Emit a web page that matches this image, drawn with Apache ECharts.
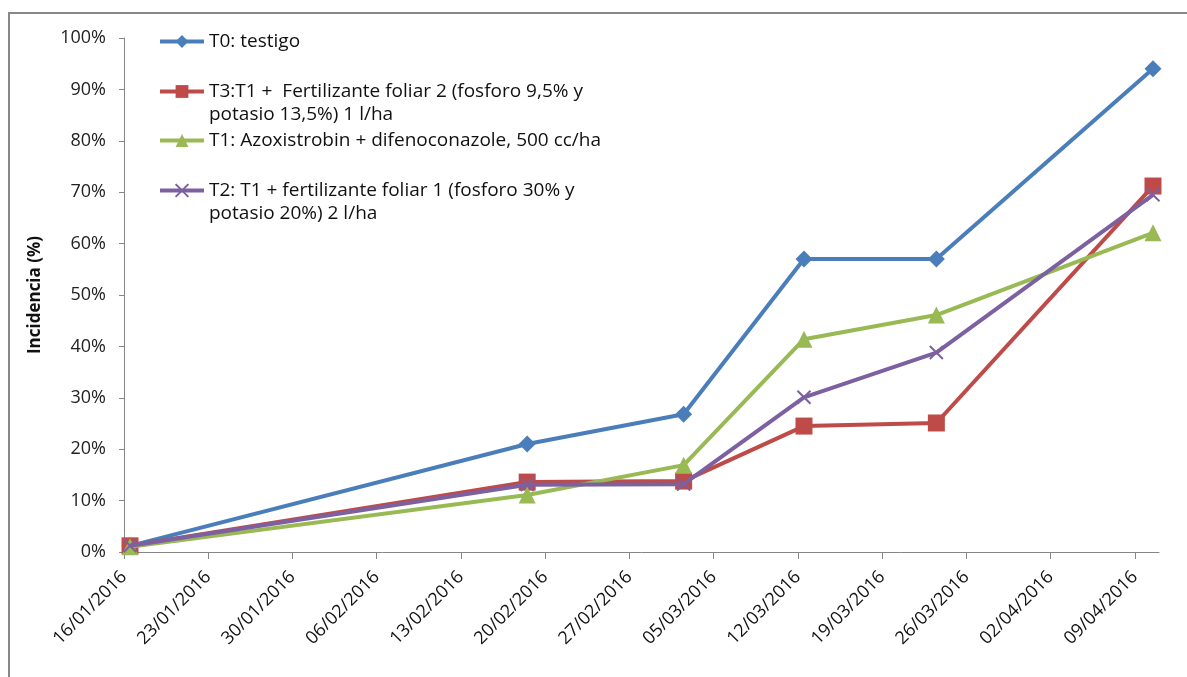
<!DOCTYPE html>
<html>
<head>
<meta charset="utf-8">
<script src="https://cdn.jsdelivr.net/npm/echarts@6/dist/echarts.min.js"></script>
<style>
  html, body { margin: 0; padding: 0; background: #fff; }
  #chart { width: 1187px; height: 677px; }
</style>
</head>
<body>
<div id="chart"></div>
<script>
// fechas de muestreo
var fechas = ['2016-01-16', '2016-02-18', '2016-03-02', '2016-03-12', '2016-03-23', '2016-04-10'];
// etiquetas del eje x (una por semana)
var tickLabels = ['16/01/2016', '23/01/2016', '30/01/2016', '06/02/2016', '13/02/2016', '20/02/2016',
    '27/02/2016', '05/03/2016', '12/03/2016', '19/03/2016', '26/03/2016', '02/04/2016', '09/04/2016'];

var nombres = [
    'T0: testigo',
    'T3:T1 +  Fertilizante foliar 2 (fosforo 9,5% y potasio 13,5%) 1 l/ha',
    'T1: Azoxistrobin + difenoconazole, 500 cc/ha',
    'T2: T1 + fertilizante foliar 1 (fosforo 30% y potasio 20%) 2 l/ha'
];

// incidencia (%)
var t0 = [1.2, 21.0, 26.8, 57.0, 57.0, 94.0];
var t3 = [1.2, 13.6, 13.8, 24.5, 25.1, 71.2];
var t1 = [1.0, 11.1, 16.9, 41.4, 46.1, 62.1];
var t2 = [1.2, 13.1, 13.2, 30.1, 38.8, 69.5];

var font = '"Open Sans", sans-serif';
var inicio = Date.UTC(2016, 0, 16);

function dia(f) {
    var p = f.split('-');
    return (Date.UTC(+p[0], +p[1] - 1, +p[2]) - inicio) / 86400000;
}

function puntos(vals) {
    return vals.map(function (v, i) { return [dia(fechas[i]) + 0.5, v]; });
}

function serie(idx, vals, color, symbol, size) {
    return {
        name: nombres[idx],
        type: 'line',
        data: puntos(vals),
        symbol: symbol,
        symbolSize: size,
        showAllSymbol: true,
        lineStyle: { color: color, width: 4 },
        itemStyle: { color: color, borderColor: color, borderWidth: symbol.indexOf('path') === 0 ? 2 : 0 },
        emphasis: { disabled: true },
        z: 2 + idx
    };
}

// una leyenda por serie; las de dos lineas llevan una linea vacia arriba
// para que el icono quede a la altura de la primera linea
function leyenda(name, top) {
    return {
        left: 158,
        top: top,
        orient: 'vertical',
        padding: 0,
        itemWidth: 44,
        itemHeight: 16,
        itemGap: 0,
        selectedMode: false,
        data: [name],
        lineStyle: { width: 4 },
        formatter: function (n) {
            if (n === nombres[1]) return '\nT3:T1 +  Fertilizante foliar 2 (fosforo 9,5% y\npotasio 13,5%) 1 l/ha';
            if (n === nombres[3]) return '\nT2: T1 + fertilizante foliar 1 (fosforo 30% y\npotasio 20%) 2 l/ha';
            return n;
        },
        textStyle: {
            fontFamily: font,
            fontSize: 19,
            color: '#111',
            lineHeight: 23
        }
    };
}

var chart = echarts.init(document.getElementById('chart'));
chart.setOption({
    animation: false,
    backgroundColor: '#fff',
    graphic: [{
        type: 'rect',
        shape: { x: 9, y: 13, width: 1400, height: 900 },
        style: { fill: 'none', stroke: '#888', lineWidth: 2 },
        silent: true
    }],
    grid: { left: 124, right: 28, top: 38, bottom: 125, containLabel: false },
    legend: [
        leyenda(nombres[0], 30),
        leyenda(nombres[1], 57),
        leyenda(nombres[2], 129),
        leyenda(nombres[3], 156)
    ],
    xAxis: {
        type: 'value',
        min: 0,
        max: 86,
        interval: 7,
        axisLine: { show: true, lineStyle: { color: '#868686', width: 1 } },
        axisTick: { show: true, length: 7, lineStyle: { color: '#868686' } },
        splitLine: { show: false },
        axisLabel: {
            rotate: 45,
            margin: 22,
            fontFamily: font,
            fontSize: 18,
            color: '#111',
            showMaxLabel: false,
            formatter: function (v) {
                return v % 7 === 0 ? tickLabels[v / 7] : '';
            }
        }
    },
    yAxis: {
        type: 'value',
        min: 0,
        max: 100,
        interval: 10,
        name: 'Incidencia (%)',
        nameLocation: 'middle',
        nameGap: 80,
        nameRotate: 90,
        nameTextStyle: { fontFamily: font, fontSize: 17, fontWeight: 'bold', color: '#111' },
        axisLine: { show: true, lineStyle: { color: '#868686', width: 1 } },
        axisTick: { show: true, length: 5, lineStyle: { color: '#868686' } },
        splitLine: { show: false },
        axisLabel: {
            margin: 18,
            fontFamily: font,
            fontSize: 18,
            color: '#222',
            formatter: '{value}%'
        }
    },
    series: [
        serie(0, t0, '#4A7EBB', 'diamond', 17),
        serie(1, t3, '#BE4B48', 'rect', 17),
        serie(2, t1, '#98B954', 'triangle', 17),
        serie(3, t2, '#7D60A0', 'path://M0,0L10,10M10,0L0,10', 13)
    ]
});
</script>
</body>
</html>
